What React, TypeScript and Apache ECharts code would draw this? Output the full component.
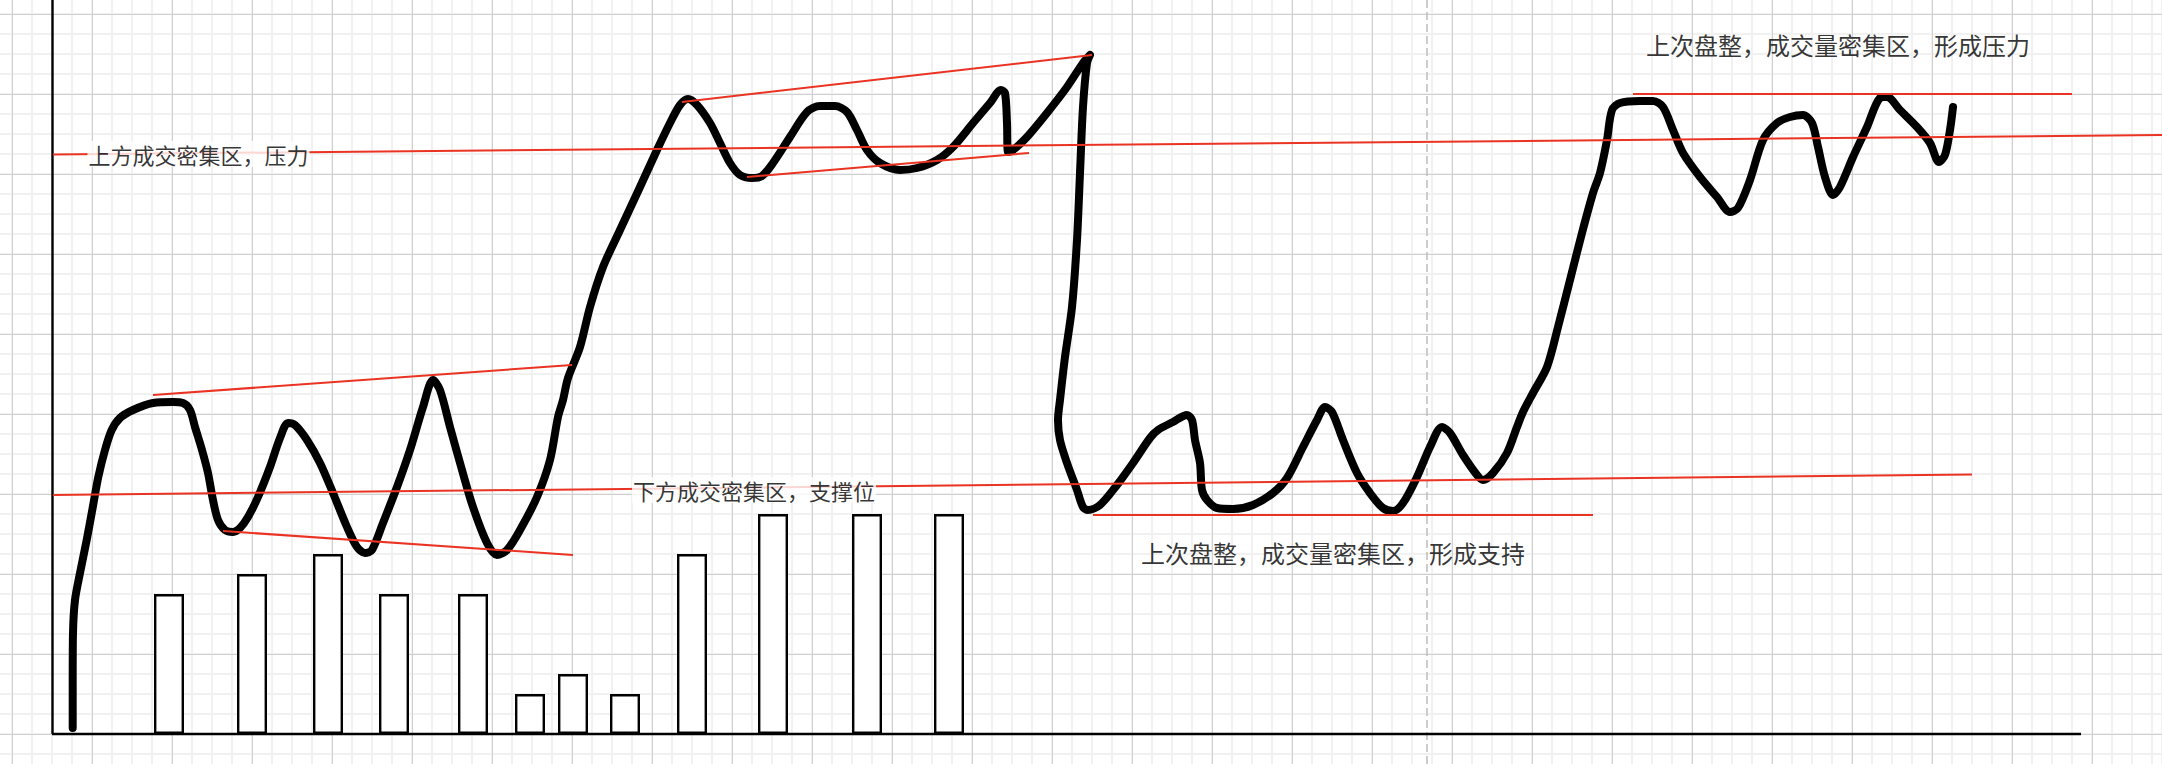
import React, { useEffect, useRef } from "react";
import * as echarts from "echarts";

type Pt = [number, number];

// Price path: x = time (distance from the vertical axis), y = price level (height above the base axis)
const initialRise: Pt[] = [
  [20.7, 6], [20.7, 54], [21, 101], [23, 134], [28, 161], [34.7, 194], [41, 228], [46.3, 257],
  [53, 284], [59.7, 304], [68, 316], [81, 324], [101, 331], [121, 332], [131, 331],
];
const firstRange: Pt[] = [
  [138, 324], [143, 307], [150, 284], [156, 261], [161, 234], [166, 214], [173, 204], [181, 202],
  [188, 206], [196, 217], [206, 237], [218, 267], [228, 296], [236, 311], [243, 309], [255, 294],
  [268, 271], [281, 241], [295, 207], [305, 187], [313, 181], [320, 184], [331, 211], [345, 247],
  [358, 284], [371, 327], [381, 354], [388, 344], [398, 307], [410, 264], [421, 227], [435, 191],
  [445, 179], [455, 184], [468, 204], [485, 237], [498, 274], [506, 317],
];
const breakout: Pt[] = [
  [511, 334], [516, 356], [528, 387], [538, 427], [551, 467], [568, 504], [588, 547], [605, 584],
  [618, 611], [628, 629], [636, 635],
];
const upperRange: Pt[] = [
  [645, 629], [658, 611], [668, 591], [678, 571], [688, 559], [700, 556], [710, 558], [721, 571],
  [738, 597], [755, 622], [768, 628], [783, 628], [795, 622], [805, 604], [815, 584], [828, 571],
  [848, 564], [865, 566], [885, 574], [901, 587], [921, 611], [938, 631], [949, 644], [953, 641],
  [955, 611], [956, 582], [961, 584], [975, 597], [995, 621], [1015, 647], [1031, 671], [1038, 679],
];
const collapse: Pt[] = [
  [1035, 671], [1031, 627], [1028, 561], [1025, 494], [1020, 427], [1013, 377], [1008, 334],
  [1006, 314], [1008, 294], [1015, 271], [1025, 244], [1031, 227], [1036, 224],
];
const lowerRange: Pt[] = [
  [1048, 229], [1065, 249], [1081, 271], [1098, 296], [1106, 304], [1121, 312], [1135, 319],
  [1140, 314], [1143, 294], [1148, 271], [1150, 244], [1155, 234], [1165, 226], [1181, 225],
  [1201, 229], [1221, 241], [1235, 256], [1251, 287], [1265, 314], [1273, 327], [1280, 322],
  [1291, 294], [1305, 261], [1318, 241], [1331, 226], [1341, 223], [1351, 231], [1365, 257],
  [1378, 287], [1390, 307], [1398, 301], [1411, 279], [1425, 259], [1431, 254], [1441, 261],
  [1455, 281], [1465, 307], [1471, 322], [1481, 341],
];
const secondRally: Pt[] = [
  [1495, 367], [1506, 407], [1518, 454], [1530, 501], [1541, 541], [1548, 561], [1555, 594],
  [1560, 624], [1568, 631], [1588, 633], [1601, 633], [1611, 627], [1621, 604], [1631, 581],
  [1648, 557], [1665, 537], [1678, 522], [1686, 526], [1698, 554], [1711, 594], [1725, 611],
  [1738, 617], [1751, 619], [1760, 611], [1766, 587], [1773, 557], [1781, 539], [1788, 547],
  [1801, 577], [1815, 607], [1828, 636], [1835, 637], [1848, 624], [1865, 607], [1878, 591],
  [1887, 572], [1893, 579], [1898, 604], [1901, 627],
];

// Volume bars
const volumeX = [117, 200, 276, 342, 421, 478, 521, 573, 640, 721, 815, 897];
const volumeH = [140, 160, 180, 140, 140, 40, 60, 40, 180, 220, 220, 220];

// Red reference / trend lines
const upperZone: Pt[] = [[1, 579.5], [2110, 599]];
const lowerZone: Pt[] = [[1, 239], [1920, 259.5]];
const priorSupport: Pt[] = [[1041, 219], [1541, 219]];
const priorPressure: Pt[] = [[1581, 640], [2020, 640]];
const range1Top: Pt[] = [[101, 339], [520, 369]];
const range1Bottom: Pt[] = [[171, 203], [521, 179]];
const range2Top: Pt[] = [[630, 632], [1040, 679]];
const range2Bottom: Pt[] = [[695, 557], [977, 581]];

// Frame
const axisYLine: Pt[] = [[0.5, 734], [0.5, 0]];
const axisXLine: Pt[] = [[0, 0], [2029, 0]];
const cursorLine: Pt[] = [[1375, 734], [1375, -30]];

// Notes
const noteText = [
  "上方成交密集区，压力",
  "下方成交密集区，支撑位",
  "上次盘整，成交量密集区，形成支持",
  "上次盘整，成交量密集区，形成压力",
];
const noteX = [146.5, 702, 1281, 1786];
const noteY = [580, 244, 181.5, 690];

const FONT = '"Noto Sans CJK SC", "Noto Sans", sans-serif';
const RED = "#ea3323";

function lineSeries(data: Pt[], color: string, width: number, z: number, type: any = "solid") {
  return {
    type: "line",
    xAxisIndex: 0,
    yAxisIndex: 0,
    data,
    symbol: "none",
    silent: true,
    clip: false,
    smooth: false,
    z,
    lineStyle: { color, width, type, cap: "butt" },
  };
}

const hidden = {
  axisLine: { show: false },
  axisTick: { show: false },
  axisLabel: { show: false },
};

export default function App() {
  const ref = useRef<HTMLDivElement>(null);

  useEffect(() => {
    if (!ref.current) return;
    const chart = echarts.init(ref.current, undefined, { renderer: "svg" });
    const pricePath = [
      ...initialRise, ...firstRange, ...breakout, ...upperRange,
      ...collapse, ...lowerRange, ...secondRally,
    ];
    const redLines = [
      upperZone, lowerZone, priorSupport, priorPressure,
      range1Top, range1Bottom, range2Top, range2Bottom,
    ];
    const option: any = {
      animation: false,
      backgroundColor: "#ffffff",
      grid: [
        { left: -8, right: 0, top: -6, bottom: -10, outerBoundsMode: "none", containLabel: false },
        { left: -68, right: 0, top: -66, bottom: -50, outerBoundsMode: "none", containLabel: false },
      ],
      xAxis: [
        {
          type: "value", gridIndex: 0, min: -60, max: 2110, interval: 20, z: 0, ...hidden,
          splitLine: { show: true, lineStyle: { color: "#f1f1f1", width: 2 } },
        },
        {
          type: "value", gridIndex: 1, min: 0, max: 2230, interval: 80, z: 1, ...hidden,
          splitLine: { show: true, lineStyle: { color: "#d0d0d0", width: 1 } },
        },
      ],
      yAxis: [
        {
          type: "value", gridIndex: 0, min: -40, max: 740, interval: 20, z: 0, ...hidden,
          splitLine: { show: true, lineStyle: { color: "#f1f1f1", width: 2 } },
        },
        {
          type: "value", gridIndex: 1, min: 0, max: 880, interval: 80, z: 1, ...hidden,
          splitLine: { show: true, lineStyle: { color: "#d0d0d0", width: 1 } },
        },
      ],
      series: [
        lineSeries(cursorLine, "#bdbdbd", 1.5, 2, [8, 4]),
        {
          type: "bar",
          xAxisIndex: 0,
          yAxisIndex: 0,
          data: volumeX.map((x, i) => [x, volumeH[i]]),
          barWidth: 30,
          silent: true,
          z: 3,
          itemStyle: { color: "#ffffff", borderColor: "#000000", borderWidth: 2.4 },
        },
        lineSeries(axisYLine, "#000000", 2.4, 3),
        lineSeries(axisXLine, "#000000", 2.4, 3),
        {
          type: "line",
          xAxisIndex: 0,
          yAxisIndex: 0,
          data: pricePath,
          symbol: "none",
          silent: true,
          clip: false,
          smooth: 0.3,
          z: 4,
          lineStyle: { color: "#000000", width: 8, cap: "round", join: "round" },
        },
        ...redLines.map((d) => lineSeries(d, RED, 2, 5)),
        {
          type: "scatter",
          xAxisIndex: 0,
          yAxisIndex: 0,
          symbolSize: 1,
          silent: true,
          z: 10,
          itemStyle: { color: "rgba(0,0,0,0)" },
          data: noteText.map((t, i) => ({
            name: t,
            value: [noteX[i], noteY[i]],
            label:
              i < 2
                ? { fontSize: 22, lineHeight: 22, backgroundColor: "#ffffff", padding: [2, 1] }
                : { fontSize: 24, lineHeight: 24 },
          })),
          label: {
            show: true,
            position: "inside",
            formatter: "{b}",
            color: "#000000",
            fontFamily: FONT,
            fontWeight: "normal",
          },
        },
      ],
    };
    chart.setOption(option);
    return () => chart.dispose();
  }, []);

  return (
    <div
      ref={ref}
      style={{ position: "absolute", left: 0, top: 0, width: 2162, height: 764, background: "#fff" }}
    />
  );
}
